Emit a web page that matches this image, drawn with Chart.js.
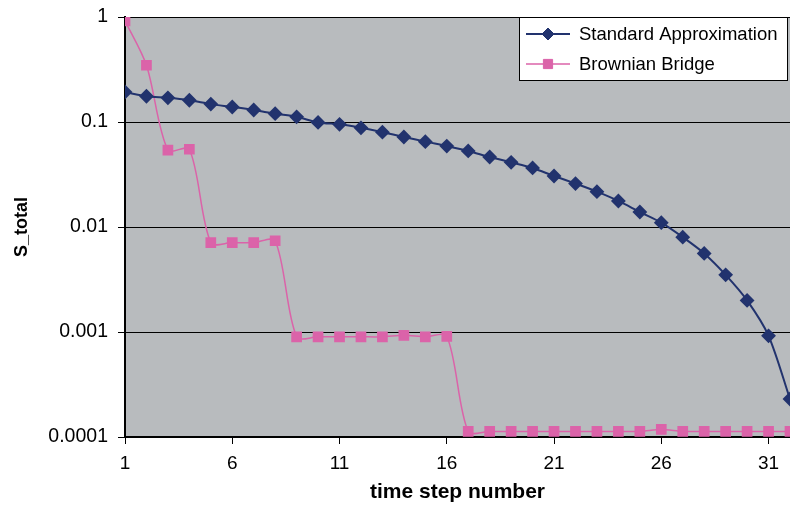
<!DOCTYPE html>
<html>
<head>
<meta charset="utf-8">
<script src="https://cdn.jsdelivr.net/npm/chart.js@4"></script>
<style>
  html, body { margin: 0; padding: 0; background: #fff; }
  #wrap { width: 790px; height: 507px; }
</style>
</head>
<body>
<div id="wrap"><canvas id="mycanvas" width="790" height="507"></canvas></div>
<script>
// time steps and the two S_total series
var steps = [1,2,3,4,5,6,7,8,9,10,11,12,13,14,15,16,17,18,19,20,21,22,23,24,25,26,27,28,29,30,31,32];
var standardApprox = [0.193,0.176,0.170,0.161,0.148,0.139,0.130,0.120,0.112,0.099,0.095,0.088,0.080,0.072,0.065,0.059,
  0.053,0.0464,0.0413,0.0365,0.0306,0.0259,0.0217,0.0177,0.0139,0.0110,0.0080,0.0056,0.0035,0.0020,0.00092,0.00023];
var brownianBridge = [0.92,0.347,0.054,0.055,0.0071,0.0071,0.0071,0.0074,0.0009,0.0009,0.0009,0.0009,0.0009,0.00093,0.0009,0.00091,
  0.000113,0.000113,0.000113,0.000113,0.000113,0.000113,0.000113,0.000113,0.000113,0.000118,
  0.000113,0.000113,0.000113,0.000113,0.000113,0.000113];
var xTicks = [1,6,11,16,21,26,31];
var yTicks = [0.0001,0.001,0.01,0.1,1];
var yTickLabels = ['0.0001','0.001','0.01','0.1','1'];

var FONT = "'Liberation Sans', Arial, Helvetica, sans-serif";

function toPoints(vals) {
  var out = [];
  for (var i = 0; i < steps.length; i++) out.push({x: steps[i], y: vals[i]});
  return out;
}

// grey plot background
var plotBg = {
  id: 'plotBg',
  beforeDraw: function(chart) {
    var a = chart.chartArea, ctx = chart.ctx;
    ctx.save();
    ctx.fillStyle = '#b8bbbe';
    ctx.fillRect(a.left, a.top, a.right - a.left, a.bottom - a.top);
    ctx.restore();
  }
};

// boxed legend sitting inside the plot, top right
var boxLegend = {
  id: 'boxLegend',
  afterDraw: function(chart) {
    var ctx = chart.ctx;
    var bx = 519.5, by = 17.5, bw = 268, bh = 63;
    ctx.save();
    ctx.fillStyle = '#fff';
    ctx.fillRect(bx, by, bw, bh);
    ctx.strokeStyle = '#000';
    ctx.lineWidth = 1;
    ctx.strokeRect(bx, by, bw, bh);
    chart.data.datasets.forEach(function(ds, i) {
      var y = 34 + i * 30;
      ctx.strokeStyle = ds.borderColor;
      ctx.lineWidth = ds.borderWidth;
      ctx.beginPath();
      ctx.moveTo(526, y);
      ctx.lineTo(570, y);
      ctx.stroke();
      ctx.fillStyle = ds.pointBackgroundColor;
      ctx.strokeStyle = ds.pointBorderColor;
      ctx.lineWidth = 1;
      Chart.helpers.drawPoint(ctx, {pointStyle: ds.pointStyle, radius: ds.pointRadius, rotation: 0, borderWidth: 1}, 548, y);
      ctx.fillStyle = '#000';
      ctx.font = '18.5px ' + FONT;
      ctx.textBaseline = 'middle';
      ctx.textAlign = 'left';
      ctx.fillText(ds.label, 579, y + 1);
    });
    ctx.restore();
  }
};

var ctx = document.getElementById('mycanvas');

var chart = new Chart(ctx, {
  type: 'line',
  data: {
    datasets: [
      {
        label: 'Standard Approximation',
        data: toPoints(standardApprox),
        borderColor: '#22336e',
        backgroundColor: '#22336e',
        pointBackgroundColor: '#22336e',
        pointBorderColor: '#22336e',
        borderWidth: 2,
        pointStyle: 'rectRot',
        pointRadius: 6,
        tension: 0.3,
        fill: false
      },
      {
        label: 'Brownian Bridge',
        data: toPoints(brownianBridge),
        borderColor: '#db63a9',
        backgroundColor: '#db63a9',
        pointBackgroundColor: '#db63a9',
        pointBorderColor: '#db63a9',
        borderWidth: 1.5,
        pointStyle: 'rect',
        pointRadius: 6.5,
        tension: 0.3,
        fill: false
      }
    ]
  },
  options: {
    responsive: false,
    animation: false,
    layout: { autoPadding: false, padding: { top: 17, right: 0, left: 0, bottom: 0 } },
    plugins: {
      legend: { display: false },
      tooltip: { enabled: false }
    },
    scales: {
      x: {
        type: 'linear',
        min: 1,
        max: 32,
        afterBuildTicks: function(scale) {
          scale.ticks = xTicks.map(function(v) { return {value: v}; });
        },
        afterFit: function(scale) {
          scale.height = 70;
          scale.paddingLeft = 0;
          scale.paddingRight = 0;
        },
        grid: { drawOnChartArea: false, drawTicks: true, tickLength: 7, tickColor: '#000', tickWidth: 1 },
        border: { color: '#000', width: 1.5 },
        ticks: { color: '#000', font: { family: FONT, size: 19 }, padding: 8, maxRotation: 0, autoSkip: false },
        title: { display: true, text: 'time step number', color: '#000', font: { family: FONT, size: 21, weight: 'bold' }, padding: { top: 0, bottom: 2 } }
      },
      y: {
        type: 'logarithmic',
        min: 0.0001,
        max: 1,
        afterBuildTicks: function(scale) {
          scale.ticks = yTicks.map(function(v) { return {value: v}; });
        },
        afterFit: function(scale) {
          scale.width = 125;
          scale.paddingTop = 0;
          scale.paddingBottom = 0;
        },
        grid: { color: '#000', lineWidth: 1, drawTicks: true, tickLength: 7, tickColor: '#000' },
        border: { color: '#000', width: 2 },
        ticks: {
          color: '#000',
          font: { family: FONT, size: 19.5 },
          padding: 10,
          autoSkip: false,
          callback: function(v) {
            var i = yTicks.indexOf(v);
            return i >= 0 ? yTickLabels[i] : '';
          }
        },
        title: { display: true, text: 'S_total', color: '#000', font: { family: FONT, size: 18, weight: 'bold' }, padding: { top: 11, bottom: 0 } }
      }
    }
  },
  plugins: [plotBg, boxLegend]
});
</script>
</body>
</html>
